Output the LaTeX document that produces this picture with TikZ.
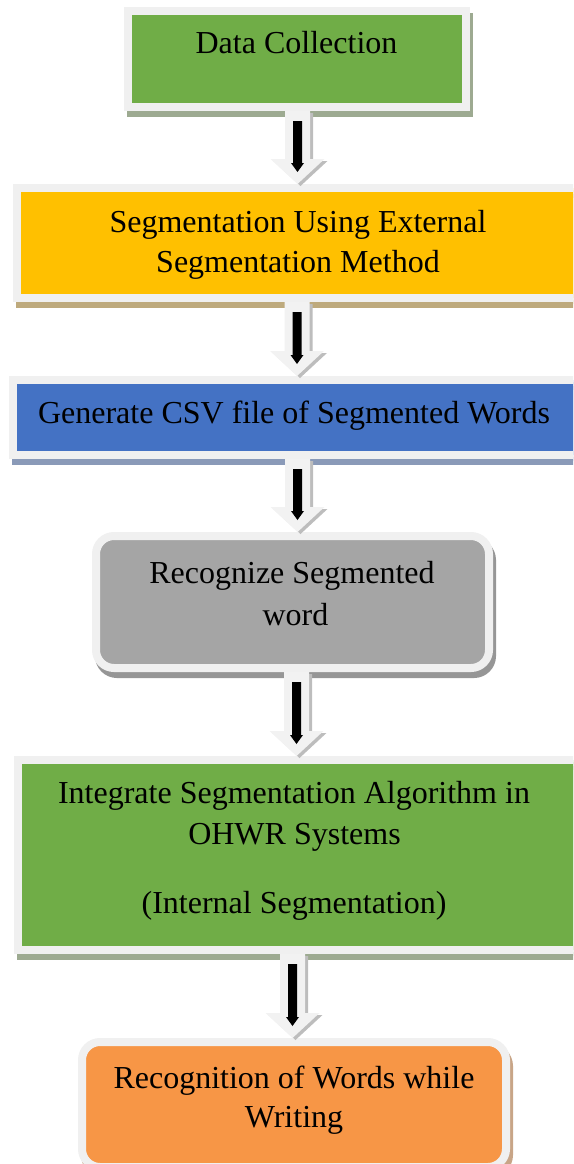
\documentclass[tikz,border=0pt]{standalone}
\usepackage{fontspec}
\setmainfont{Liberation Serif}
\usetikzlibrary{calc}

\definecolor{rim}{HTML}{F0F0F0}
\definecolor{arrowrim}{HTML}{F2F2F2}
\definecolor{arrowshadow}{HTML}{BDBDBD}
\definecolor{stagegreen}{HTML}{70AD47}
\definecolor{stageyellow}{HTML}{FFC000}
\definecolor{stageblue}{HTML}{4472C4}
\definecolor{stagegray}{HTML}{A5A5A5}
\definecolor{stageorange}{HTML}{F79646}
\definecolor{shgreen}{RGB}{157,170,145}
\definecolor{shyellow}{RGB}{190,170,125}
\definecolor{shblue}{RGB}{138,154,184}
\definecolor{shgray}{RGB}{150,150,150}
\definecolor{shorange}{RGB}{200,165,135}

\tikzset{
  stage/.style={rectangle, draw=rim, line width=8pt, outer sep=4pt, inner sep=0pt},
  castshadow/.style={preaction={draw=#1, fill=#1, line width=8pt,
      transform canvas={shift={(3pt,-6pt)}}}},
  caption/.style={anchor=base, inner sep=0pt, text=black,
      font=\fontsize{32pt}{40pt}\selectfont},
  arrowface/.style={fill=arrowrim},
  arrowshade/.style={fill=arrowshadow, transform canvas={shift={(3pt,-2pt)}}},
  arrowcore/.style={fill=black},
}

% hollow block arrow with a black arrow inside, from node #1 down to node #2 on the axis x=#3
\newcommand{\stagearrow}[3]{%
  \foreach \look in {arrowshade,arrowface}{%
    \path[\look] let \p1=(#1.south), \p2=(#2.north) in
      ({#3pt-12.5pt},\y1) -- ({#3pt+12.5pt},\y1) -- ({#3pt+12.5pt},{\y2+25pt})
      -- ({#3pt+27pt},{\y2+25pt}) -- (#3pt,\y2) -- ({#3pt-27pt},{\y2+25pt})
      -- ({#3pt-12.5pt},{\y2+25pt}) -- cycle;
  }
  \path[arrowcore] let \p1=(#1.south), \p2=(#2.north) in
    ({#3pt-4.5pt},{\y1-10pt}) -- ({#3pt+4.5pt},{\y1-10pt}) -- ({#3pt+4.5pt},{\y2+21pt})
    -- ({#3pt+6.5pt},{\y2+21pt}) -- (#3pt,{\y2+12pt}) -- ({#3pt-6.5pt},{\y2+21pt})
    -- ({#3pt-4.5pt},{\y2+21pt}) -- cycle;
}

\begin{document}
\begin{tikzpicture}[x=1pt, y=-1pt]
  \useasboundingbox (0,0) rectangle (573,1164);
  \clip (0,0) rectangle (573,1164);

  % stages
  \node[stage, fill=stagegreen, castshadow=shgreen,
        minimum width=338pt, minimum height=96pt] (b1) at (297,59) {};
  \node[stage, fill=stageyellow, castshadow=shyellow,
        minimum width=569pt, minimum height=110pt] (b2) at (301.5,243) {};
  \node[stage, fill=stageblue, castshadow=shblue,
        minimum width=577pt, minimum height=75pt] (b3) at (301.5,417.5) {};
  \node[stage, rounded corners=18pt, fill=stagegray, castshadow=shgray,
        minimum width=393pt, minimum height=132pt] (b4) at (292.5,602) {};
  \node[stage, fill=stagegreen, castshadow=shgreen,
        minimum width=572pt, minimum height=190pt] (b5) at (304,855) {};
  \node[stage, rounded corners=18pt, fill=stageorange, castshadow=shorange,
        minimum width=424pt, minimum height=125pt] (b6) at (294,1104.5) {};

  % stage texts
  \node[caption] (t1) at (296.5,53) {Data Collection};
  \node[caption] (t2a) at (298,232) {Segmentation Using External};
  \node[caption] (t2b) at (298,272) {Segmentation Method};
  \node[caption] (t3) at (294,423) {Generate CSV file of Segmented Words};
  \node[caption] (t4a) at (292,583) {Recognize Segmented};
  \node[caption] (t4b) at (295.5,625) {word};
  \node[caption] (t5a) at (294,803) {Integrate Segmentation Algorithm in};
  \node[caption] (t5b) at (294.5,844) {OHWR Systems};
  \node[caption] (t5c) at (294,913) {(Internal Segmentation)};
  \node[caption] (t6a) at (294,1088) {Recognition of Words while};
  \node[caption] (t6b) at (294,1127) {Writing};

  % flow arrows
  \stagearrow{b1}{b2}{297.5}
  \stagearrow{b2}{b3}{297}
  \stagearrow{b3}{b4}{297.5}
  \stagearrow{b4}{b5}{296.5}
  \stagearrow{b5}{b6}{292.5}
\end{tikzpicture}
\end{document}
